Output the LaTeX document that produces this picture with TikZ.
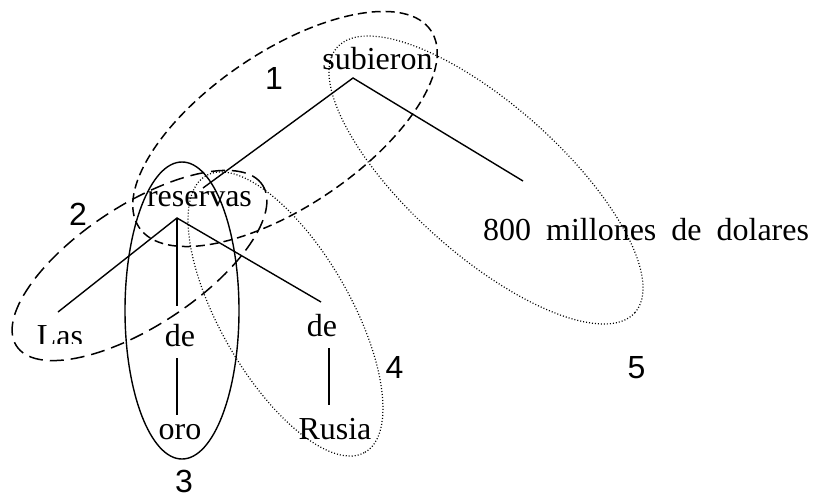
\documentclass[tikz,border=0pt]{standalone}
\usepackage{fontspec}
\setmainfont{Liberation Serif}
\newfontfamily\labfont{Liberation Sans}
\begin{document}
\begin{tikzpicture}[x=1pt,y=-1pt,
 word/.style={font=\fontsize{32}{38}\selectfont, inner sep=0pt, anchor=base},
 num/.style={font=\labfont\fontsize{32}{38}\selectfont, inner sep=0pt, anchor=base},
 branch/.style={line width=1.4pt},
 dashA/.style={line width=1.5pt, dash pattern=on 9pt off 5pt},
 dashB/.style={line width=1.5pt, dash pattern=on 14pt off 7pt},
 dotE/.style={line width=1.2pt, dash pattern=on 1pt off 2pt},
 solidE/.style={line width=1.4pt}]
\useasboundingbox (0,0) rectangle (814,500);

% words
\node[word] (sub) at (377.5,70) {subieron};
\node[word] (res) at (199.5,206) {reservas};
\node[word, anchor=base west] (mil) at (483,240) {800\hspace{15pt}millones\hspace{15pt}de\hspace{15pt}dolares};
\begin{scope}
\clip (0,0) rectangle (130,343);
\node[word] (las) at (60,346) {Las};
\end{scope}
\node[word] (de1) at (180,346) {de};
\node[word] (oro) at (180,439) {oro};
\node[word] (de2) at (322,336) {de};
\node[word] (rus) at (335,439) {Rusia};

% branch points
\coordinate (a1) at (353,78);
\coordinate (b1) at (203,188);
\coordinate (c1) at (523,181);
\coordinate (a2) at (177,218);
\coordinate (b2) at (58,312);
\coordinate (c2) at (177,306);
\coordinate (d2) at (321,302);
\coordinate (o1) at (177,358);
\coordinate (o2) at (177,415);
\coordinate (r1) at (329,348);
\coordinate (r2) at (329,405);

\draw[branch] (b1) -- (a1) -- (c1);
\draw[branch] (b2) -- (a2) -- (d2);
\draw[branch] (a2) -- (c2);
\draw[branch] (o1) -- (o2);
\draw[branch] (r1) -- (r2);

% groupings
\draw[dashA, rotate around={34:(285,129)}] (285,129) ellipse [x radius=176pt, y radius=77.5pt];
\draw[dashB, rotate around={33.2:(139.5,265.5)}] (139.5,265.5) ellipse [x radius=147pt, y radius=60.5pt];
\draw[solidE] (182,310.5) ellipse [x radius=57pt, y radius=148.5pt];
\draw[dotE, rotate around={-60.1:(285.5,314)}] (285.5,314) ellipse [x radius=159.5pt, y radius=65pt];
\draw[dotE, rotate around={-41.7:(486,180)}] (486,180) ellipse [x radius=199.4pt, y radius=75pt];

% labels
\node[num] (n1) at (274,90) {1};
\node[num] (n2) at (78,225) {2};
\node[num] (n3) at (184,492) {3};
\node[num] (n4) at (394.5,378) {4};
\node[num] (n5) at (636.5,378) {5};
\end{tikzpicture}
\end{document}
